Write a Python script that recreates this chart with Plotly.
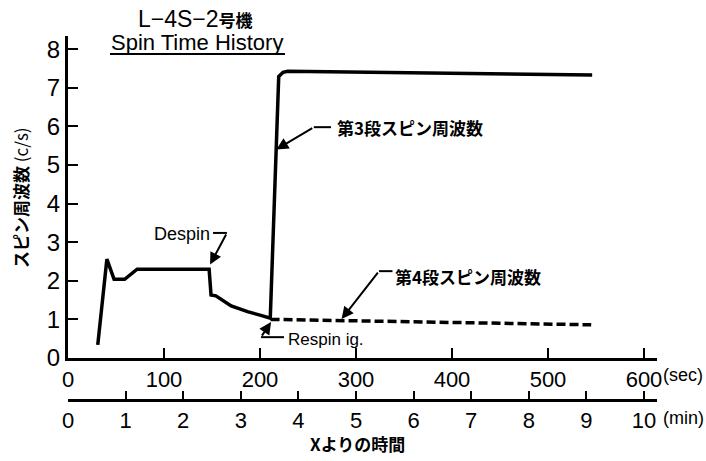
import plotly.graph_objects as go

# ---- data ----
t_stage3 = [31, 40.5, 48, 59, 72, 147, 149, 154, 170, 187, 200, 210.7, 219.5, 224, 229, 546]
f_stage3 = [0.34, 2.56, 2.04, 2.04, 2.3, 2.3, 1.63, 1.61, 1.35, 1.2, 1.11, 1.03, 7.29, 7.40, 7.43, 7.33]
t_stage4 = [211, 545]
f_stage4 = [1.0, 0.86]

sec_ticks = [0, 100, 200, 300, 400, 500, 600]
min_ticks = [0, 1, 2, 3, 4, 5, 6, 7, 8, 9, 10]
y_ticks = [0, 1, 2, 3, 4, 5, 6, 7, 8]

W, H = 706, 461
L, R, T, B = 68, 49, 36, 61
PW, PH = W - L - R, H - T - B
X_MAX = PW / 0.96          # sec shown across the plot width
Y0_PX = 358                # pixel row of y=0
Y_MAX = (Y0_PX - T) / 38.6
ydom0 = (T + PH - Y0_PX) / PH

def px(xp, yp):
    return (xp - L) / PW, (T + PH - yp) / PH

SANS = "Liberation Sans, Arial, sans-serif"
CJK = "Noto Sans CJK JP, sans-serif"

fig = go.Figure()
fig.add_trace(go.Scatter(x=t_stage3, y=f_stage3, mode="lines",
                         line=dict(color="black", width=3.5), showlegend=False))
fig.add_trace(go.Scatter(x=t_stage4, y=f_stage4, mode="lines",
                         line=dict(color="black", width=3.5, dash="9px,4px"), showlegend=False))
# invisible trace for the minute axis
fig.add_trace(go.Scatter(x=[0], y=[0], xaxis="x2", mode="markers",
                         marker=dict(opacity=0), showlegend=False, hoverinfo="skip"))

fig.update_layout(
    width=W, height=H,
    margin=dict(l=L, r=R, t=T, b=B),
    paper_bgcolor="white", plot_bgcolor="white",
    xaxis=dict(range=[0, X_MAX], tickvals=sec_ticks, ticktext=[str(v) for v in sec_ticks],
               showline=True, linewidth=3, linecolor="black", ticks="inside",
               ticklen=10, tickwidth=2, tickcolor="black", showgrid=False, zeroline=False,
               anchor="y", tickfont=dict(family=SANS, size=22, color="black")),
    xaxis2=dict(range=[0, X_MAX / 60], tickvals=min_ticks, ticktext=[str(v) for v in min_ticks],
                overlaying="x", anchor="free", position=0, side="bottom",
                showline=True, linewidth=3, linecolor="black", ticks="inside",
                ticklen=8, tickwidth=2, tickcolor="black", showgrid=False, zeroline=False,
                tickfont=dict(family=SANS, size=22, color="black")),
    yaxis=dict(range=[0, Y_MAX], domain=[ydom0, 1], tickvals=y_ticks,
               ticktext=[str(v) for v in y_ticks],
               showline=True, linewidth=3, linecolor="black", ticks="inside",
               ticklen=10, tickwidth=2, tickcolor="black", showgrid=False, zeroline=False,
               tickfont=dict(family=SANS, size=24, color="black")),
)

ann = []
shapes = []

def text(xp, yp, s, size, fam, xanchor="center", angle=0):
    x, y = px(xp, yp)
    ann.append(dict(x=x, y=y, xref="paper", yref="paper", text=s, showarrow=False,
                    xanchor=xanchor, yanchor="middle", textangle=angle,
                    font=dict(family=fam, size=size, color="black")))

# titles
text(195, 19, "L−4S−2<span style='font-family:Noto Sans CJK JP;font-size:17px'><b>号機</b></span>", 23, SANS)
text(197, 42, "Spin Time History", 22, SANS)
x1, y1 = px(110, 54)
x2, _ = px(285, 54)
shapes.append(dict(type="line", xref="paper", yref="paper", x0=x1, x1=x2, y0=y1, y1=y1,
                   line=dict(color="black", width=2)))
# axis titles
text(20, 198, "<b>スピン周波数</b> (c/s)", 17, CJK, angle=-90)
text(357, 443, "<b>Xよりの時間</b>", 17, CJK)
text(661, 375, "(sec)", 18, SANS, xanchor="left")
text(661, 418, "(min)", 18, SANS, xanchor="left")

# callouts (data coordinates): tip, bend, end-of-horizontal, text position
def callout(tip, bend, hend, label, tpos, size, fam):
    ann.append(dict(x=tip[0], y=tip[1], ax=bend[0], ay=bend[1], xref="x", yref="y",
                    axref="x", ayref="y", text="", showarrow=True, arrowhead=2,
                    arrowsize=1.2, arrowwidth=2, arrowcolor="black", standoff=0))
    shapes.append(dict(type="line", xref="x", yref="y", x0=bend[0], y0=bend[1],
                       x1=hend[0], y1=hend[1], line=dict(color="black", width=2)))
    ann.append(dict(x=tpos[0], y=tpos[1], xref="x", yref="y", text=label, showarrow=False,
                    xanchor="left", yanchor="middle",
                    font=dict(family=fam, size=size, color="black")))

callout((217, 5.4), (256, 5.98), (274, 5.98), "<b>第3段スピン周波数</b>", (278, 5.98), 17, CJK)
callout((285, 1.01), (324, 2.25), (338, 2.25), "<b>第4段スピン周波数</b>", (339, 2.12), 17, CJK)
callout((211.5, 0.93), (201, 0.54), (225, 0.54), "Respin ig.", (227, 0.47), 17, SANS)
callout((148, 2.42), (165.5, 3.24), (151, 3.24), "Despin", (87, 3.2), 18, SANS)

fig.update_layout(annotations=ann, shapes=shapes)
fig.write_html("out.html")
